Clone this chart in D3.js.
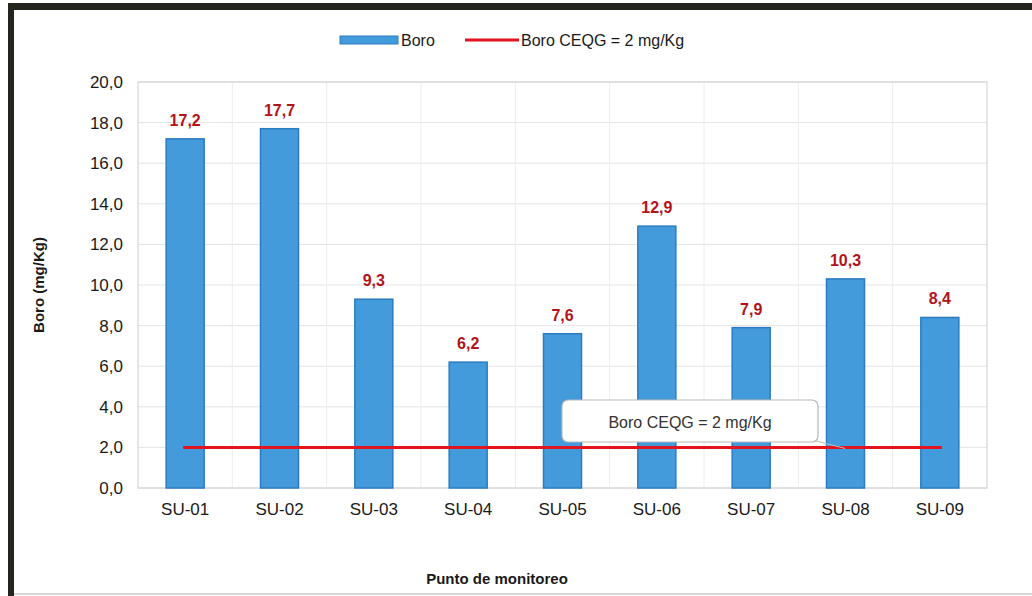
<!DOCTYPE html>
<html lang="es">
<head>
<meta charset="utf-8" />
<title>Boro</title>
<script src="https://cdn.jsdelivr.net/npm/d3@7"></script>
<style>
  body { margin: 0; background: #fff; }
  text { font-family: "Liberation Sans Narrow", "Liberation Sans", Arial, sans-serif; }
</style>
</head>
<body>
<div id="chart"></div>
<script>
// data
var puntos = ["SU-01", "SU-02", "SU-03", "SU-04", "SU-05", "SU-06", "SU-07", "SU-08", "SU-09"];
var boro = [17.2, 17.7, 9.3, 6.2, 7.6, 12.9, 7.9, 10.3, 8.4];
var limite = 2;
var yTicks = [0, 2, 4, 6, 8, 10, 12, 14, 16, 18, 20];

var W = 1032, H = 596;
var margin = {top: 82, right: 45, bottom: 108, left: 138},
    width = W - margin.left - margin.right,
    height = H - margin.top - margin.bottom;

var svg = d3.select("#chart").append("svg")
    .attr("width", W).attr("height", H);

// outer frame (dark top and left edges of the scan)
svg.append("rect").attr("x", 8).attr("y", 3).attr("width", W - 8).attr("height", 7).attr("fill", "#25251d");
svg.append("rect").attr("x", 8).attr("y", 3).attr("width", 6).attr("height", H - 3).attr("fill", "#25251d");
svg.append("line").attr("x1", 14).attr("x2", W).attr("y1", 594).attr("y2", 594)
    .attr("stroke", "#d8d8d8").attr("stroke-width", 2);

var g = svg.append("g")
    .attr("transform", "translate(" + margin.left + "," + margin.top + ")");

var x = d3.scaleBand().domain(puntos).range([0, width]).paddingInner(0).paddingOuter(0);
var y = d3.scaleLinear().domain([0, 20]).range([height, 0]);

// grid
g.append("g").selectAll("line.h").data(yTicks).enter().append("line")
    .attr("x1", 0).attr("x2", width)
    .attr("y1", function(d) { return y(d); }).attr("y2", function(d) { return y(d); })
    .attr("stroke", "#e4e4e4").attr("stroke-width", 1);
g.append("g").selectAll("line.v").data(puntos.slice(1)).enter().append("line")
    .attr("x1", function(d) { return x(d); }).attr("x2", function(d) { return x(d); })
    .attr("y1", 0).attr("y2", height)
    .attr("stroke", "#ececec").attr("stroke-width", 1);
g.append("rect").attr("width", width).attr("height", height)
    .attr("fill", "none").attr("stroke", "#d6d6d6").attr("stroke-width", 1.2);

// y axis
var yAxis = g.append("g")
    .call(d3.axisLeft(y).tickValues(yTicks).tickSize(0).tickPadding(15)
      .tickFormat(function(d) { return d3.format(".1f")(d).replace(".", ","); }));
yAxis.select(".domain").remove();
yAxis.selectAll("text").style("font-size", "17px").attr("fill", "#1a1a1a");

// x axis
var xAxis = g.append("g")
    .attr("transform", "translate(0," + height + ")")
    .call(d3.axisBottom(x).tickSize(0).tickPadding(15));
xAxis.select(".domain").remove();
xAxis.selectAll("text").style("font-size", "17px").attr("fill", "#1a1a1a");

// bars
var bw = 38;
g.append("g").selectAll("rect").data(boro).enter().append("rect")
    .attr("x", function(d, i) { return x(puntos[i]) + x.bandwidth() / 2 - bw / 2; })
    .attr("y", function(d) { return y(d); })
    .attr("width", bw)
    .attr("height", function(d) { return height - y(d); })
    .attr("fill", "#449bdc")
    .attr("stroke", "#2a7cc2").attr("stroke-width", 1.5);

// value labels
g.append("g").selectAll("text").data(boro).enter().append("text")
    .attr("x", function(d, i) { return x(puntos[i]) + x.bandwidth() / 2; })
    .attr("y", function(d) { return y(d) - 13; })
    .attr("text-anchor", "middle")
    .style("font-size", "16px").style("font-weight", "bold")
    .attr("fill", "#b3121b")
    .text(function(d) { return d3.format(".1f")(d).replace(".", ","); });

// limit line
var cx0 = x(puntos[0]) + x.bandwidth() / 2 - 2,
    cx1 = x(puntos[puntos.length - 1]) + x.bandwidth() / 2 + 2;
g.append("line")
    .attr("x1", cx0).attr("x2", cx1)
    .attr("y1", y(limite)).attr("y2", y(limite))
    .attr("stroke", "#e4141e").attr("stroke-width", 3);

// callout label for the line
var box = g.append("g").attr("transform", "translate(" + (562 - margin.left) + "," + (400 - margin.top) + ")");
box.append("line").attr("x1", 250).attr("y1", 40).attr("x2", 283).attr("y2", y(limite) - (400 - margin.top) + 1)
    .attr("stroke", "#bdbdbd").attr("stroke-width", 1);
box.append("rect").attr("width", 256).attr("height", 42).attr("rx", 6)
    .attr("fill", "#fff").attr("stroke", "#b8b8b8").attr("stroke-width", 1.2);
box.append("text").attr("x", 128).attr("y", 28).attr("text-anchor", "middle")
    .style("font-size", "16px").attr("fill", "#333").text("Boro CEQG = 2 mg/Kg");

// legend
var leg = svg.append("g");
leg.append("rect").attr("x", 340).attr("y", 36).attr("width", 58).attr("height", 8)
    .attr("fill", "#449bdc").attr("stroke", "#2a7cc2");
leg.append("text").attr("x", 401).attr("y", 46).style("font-size", "16px").attr("fill", "#1a1a1a").text("Boro");
leg.append("line").attr("x1", 465).attr("x2", 519).attr("y1", 40).attr("y2", 40)
    .attr("stroke", "#e4141e").attr("stroke-width", 3);
leg.append("text").attr("x", 521).attr("y", 46).style("font-size", "16px").attr("fill", "#1a1a1a").text("Boro CEQG = 2 mg/Kg");

// axis titles
svg.append("text")
    .attr("transform", "translate(44," + (margin.top + height / 2) + ") rotate(-90)")
    .attr("text-anchor", "middle")
    .style("font-size", "15px").style("font-weight", "bold").attr("fill", "#1a1a1a")
    .text("Boro (mg/Kg)");
svg.append("text")
    .attr("x", 497).attr("y", 584)
    .attr("text-anchor", "middle")
    .style("font-size", "15px").style("font-weight", "bold").attr("fill", "#1a1a1a")
    .text("Punto de monitoreo");
</script>
</body>
</html>
